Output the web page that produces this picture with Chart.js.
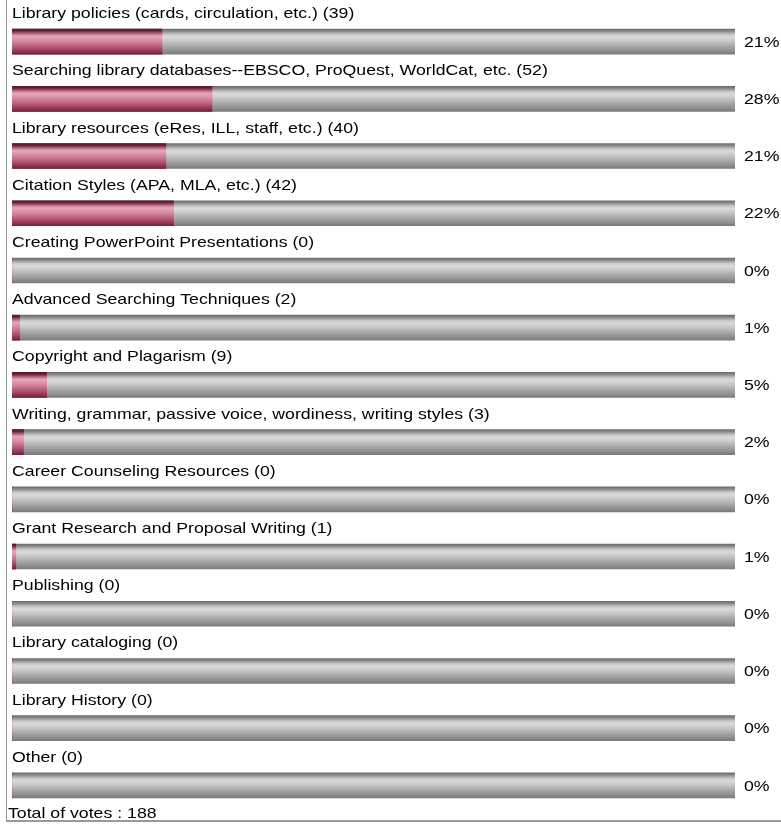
<!DOCTYPE html>
<html>
<head>
<meta charset="utf-8">
<title>Poll results</title>
<script src="https://cdn.jsdelivr.net/npm/chart.js@4/dist/chart.umd.min.js"></script>
<style>
    html, body { margin: 0; padding: 0; background: #fff; }
    #wrap { width: 781px; height: 824px; position: relative; }
</style>
</head>
<body>
<div id="wrap"><canvas id="poll-chart" width="781" height="824"></canvas></div>
<script>
// poll data
const topics = [
    'Library policies (cards, circulation, etc.)',
    'Searching library databases--EBSCO, ProQuest, WorldCat, etc.',
    'Library resources (eRes, ILL, staff, etc.)',
    'Citation Styles (APA, MLA, etc.)',
    'Creating PowerPoint Presentations',
    'Advanced Searching Techniques',
    'Copyright and Plagarism',
    'Writing, grammar, passive voice, wordiness, writing styles',
    'Career Counseling Resources',
    'Grant Research and Proposal Writing',
    'Publishing',
    'Library cataloging',
    'Library History',
    'Other'
];
const votes = [39, 52, 40, 42, 0, 2, 9, 3, 0, 1, 0, 0, 0, 0];
const totalVotes = 188;
const trackValues = topics.map(() => 100);

document.addEventListener('DOMContentLoaded', () => {

    const canvas = document.getElementById('poll-chart');
    const FONT = '15px "Liberation Sans", Arial, sans-serif';
    const TEXT_STRETCH = 1.18; // o texto do original é mais largo
    const BAR_H = 25;

    const percents = votes.map(v => v / totalVotes * 100);

    /* --- gradientes das barras (faixas horizontais) --- */
    function barGradient(ctx, stops, fallback) {
        const chart = ctx.chart;
        const yScale = chart.scales.y;
        if (ctx.type !== 'data' || !yScale) return fallback;
        const c = yScale.getPixelForValue(ctx.dataIndex);
        if (!isFinite(c)) return fallback;
        const g = chart.ctx.createLinearGradient(0, c - BAR_H / 2, 0, c + BAR_H / 2);
        stops.forEach(s => g.addColorStop(s[0], s[1]));
        return g;
    }

    const redStops = [
        [0, '#561828'], [0.08, '#6e2538'], [0.18, '#b66a80'], [0.28, '#e6a8b8'],
        [0.42, '#dc93a8'], [0.6, '#c8718b'], [0.78, '#ab4b68'], [0.92, '#8a3049'], [1, '#6b2036']
    ];
    const grayStops = [
        [0, '#6c6c6c'], [0.1, '#909090'], [0.22, '#cacaca'], [0.32, '#dadada'],
        [0.5, '#c4c4c4'], [0.7, '#a6a6a6'], [0.88, '#8e8e8e'], [1, '#7a7a7a']
    ];

    function stretchedText(c, text, x, y) {
        c.save();
        c.translate(x, y);
        c.scale(TEXT_STRETCH, 1);
        c.fillText(text, 0, 0);
        c.restore();
    }

    /* --- textos e moldura --- */
    const pollText = {
        id: 'pollText',
        afterDatasetsDraw(chart) {
            const c = chart.ctx;
            const yScale = chart.scales.y;
            c.save();
            c.font = FONT;
            c.fillStyle = '#000';
            c.textAlign = 'left';
            topics.forEach((t, i) => {
                const mid = yScale.getPixelForValue(i);
                c.textBaseline = 'alphabetic';
                stretchedText(c, `${t} (${votes[i]})`, 12, mid - BAR_H / 2 - 11);
                c.textBaseline = 'middle';
                stretchedText(c, Math.round(percents[i]) + '%', chart.chartArea.right + 9, mid + 1);
            });
            c.textBaseline = 'alphabetic';
            stretchedText(c, 'Total of votes : ' + totalVotes, 8, 818);

            // moldura
            c.strokeStyle = '#9a9a9a';
            c.lineWidth = 1;
            c.beginPath();
            c.moveTo(6.5, 0);
            c.lineTo(6.5, 822);
            c.stroke();
            c.lineWidth = 2;
            c.beginPath();
            c.moveTo(6, 821);
            c.lineTo(781, 821);
            c.stroke();
            c.restore();
        }
    };

    new Chart(canvas.getContext('2d'), {
        type: 'bar',
        data: {
            labels: topics,
            datasets: [
                {
                    label: 'Votes',
                    data: percents,
                    order: 1,
                    grouped: false,
                    barThickness: BAR_H,
                    borderWidth: 0,
                    backgroundColor: ctx => barGradient(ctx, redStops, '#c8718b')
                },
                {
                    label: 'Track',
                    data: trackValues,
                    order: 2,
                    grouped: false,
                    barThickness: BAR_H,
                    borderWidth: 0,
                    backgroundColor: ctx => barGradient(ctx, grayStops, '#aaaaaa')
                }
            ]
        },
        options: {
            indexAxis: 'y',
            responsive: false,
            animation: false,
            layout: { padding: { left: 12, right: 46, top: 13, bottom: 10 } },
            scales: {
                x: { display: false, min: 0, max: 100 },
                y: { display: false }
            },
            plugins: {
                legend: { display: false },
                tooltip: { enabled: false }
            }
        },
        plugins: [pollText]
    });
});
</script>
</body>
</html>
